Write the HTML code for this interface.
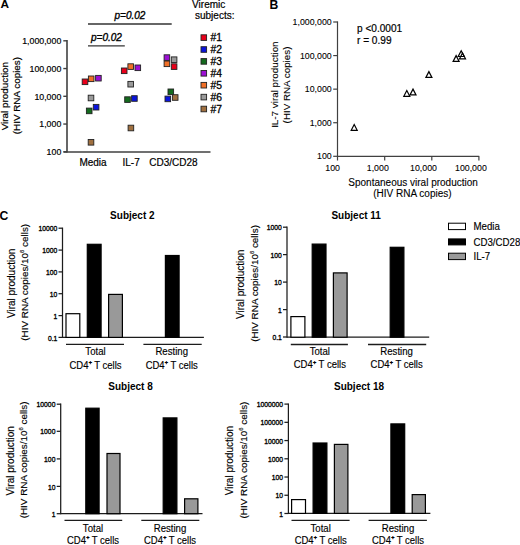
<!DOCTYPE html>
<html><head><meta charset="utf-8"><style>
html,body{margin:0;padding:0;background:#fff;width:520px;height:545px;overflow:hidden}
svg{display:block;font-family:"Liberation Sans", sans-serif}
</style></head><body>
<svg width="520" height="545" viewBox="0 0 520 545">
<rect width="520" height="545" fill="#fff"/>
<text x="0.4" y="8.4" font-size="11.8" text-anchor="start" font-weight="bold">A</text>
<line x1="67.0" y1="40.099999999999994" x2="67.0" y2="152.6" stroke="#404040" stroke-width="1.6"/>
<line x1="63.6" y1="151.9" x2="210.5" y2="151.9" stroke="#404040" stroke-width="1.5"/>
<line x1="63.3" y1="40.8" x2="67.0" y2="40.8" stroke="#404040" stroke-width="1.4"/>
<text x="61.3" y="44.199999999999996" font-size="9.5" text-anchor="end" textLength="39.14" lengthAdjust="spacingAndGlyphs" stroke="#000" stroke-width="0.2">1,000,000</text>
<line x1="63.3" y1="68.55" x2="67.0" y2="68.55" stroke="#404040" stroke-width="1.4"/>
<text x="61.3" y="71.95" font-size="9.5" text-anchor="end" textLength="31.8" lengthAdjust="spacingAndGlyphs" stroke="#000" stroke-width="0.2">100,000</text>
<line x1="63.3" y1="96.3" x2="67.0" y2="96.3" stroke="#404040" stroke-width="1.4"/>
<text x="61.3" y="99.7" font-size="9.5" text-anchor="end" textLength="26.91" lengthAdjust="spacingAndGlyphs" stroke="#000" stroke-width="0.2">10,000</text>
<line x1="63.3" y1="124.05" x2="67.0" y2="124.05" stroke="#404040" stroke-width="1.4"/>
<text x="61.3" y="127.45" font-size="9.5" text-anchor="end" textLength="22.02" lengthAdjust="spacingAndGlyphs" stroke="#000" stroke-width="0.2">1,000</text>
<line x1="63.3" y1="151.8" x2="67.0" y2="151.8" stroke="#404040" stroke-width="1.4"/>
<text x="61.3" y="155.20000000000002" font-size="9.5" text-anchor="end" textLength="14.68" lengthAdjust="spacingAndGlyphs" stroke="#000" stroke-width="0.2">100</text>
<text x="93.0" y="166.0" font-size="10" text-anchor="middle" stroke="#000" stroke-width="0.2">Media</text>
<text x="131.15" y="166.0" font-size="10" text-anchor="middle" stroke="#000" stroke-width="0.2">IL-7</text>
<text x="173.45" y="166.0" font-size="10" text-anchor="middle" stroke="#000" stroke-width="0.2">CD3/CD28</text>
<text transform="translate(8.0,96.15) rotate(-90)" x="0" y="0" font-size="9.9" text-anchor="middle" stroke="#000" stroke-width="0.2">Viral production</text>
<text transform="translate(19.8,95.6) rotate(-90)" x="0" y="0" font-size="9.9" text-anchor="middle" stroke="#000" stroke-width="0.2">(HIV RNA copies)</text>
<line x1="88" y1="24" x2="171.7" y2="24" stroke="#333" stroke-width="1.3"/>
<text x="130" y="19.2" font-size="10" text-anchor="middle" font-style="italic" stroke="#000" stroke-width="0.35">p=0.02</text>
<line x1="88" y1="45.8" x2="124.8" y2="45.8" stroke="#333" stroke-width="1.3"/>
<text x="106.5" y="41.2" font-size="10" text-anchor="middle" font-style="italic" stroke="#000" stroke-width="0.35">p=0.02</text>
<text x="192.1" y="7.7" font-size="10" text-anchor="start" stroke="#000" stroke-width="0.2">Viremic</text>
<text x="195" y="19.4" font-size="10" text-anchor="start" stroke="#000" stroke-width="0.2">subjects:</text>
<rect x="201.0" y="34.800000000000004" width="5.6" height="5.6" fill="#e8001a" stroke="#222" stroke-width="0.9"/>
<text x="210.6" y="41.4" font-size="10.3" text-anchor="start" stroke="#000" stroke-width="0.3">#1</text>
<rect x="201.0" y="46.7" width="5.6" height="5.6" fill="#0a14dc" stroke="#222" stroke-width="0.9"/>
<text x="210.6" y="53.3" font-size="10.3" text-anchor="start" stroke="#000" stroke-width="0.3">#2</text>
<rect x="201.0" y="58.60000000000001" width="5.6" height="5.6" fill="#146a1e" stroke="#222" stroke-width="0.9"/>
<text x="210.6" y="65.2" font-size="10.3" text-anchor="start" stroke="#000" stroke-width="0.3">#3</text>
<rect x="201.0" y="70.50000000000001" width="5.6" height="5.6" fill="#9c10d4" stroke="#222" stroke-width="0.9"/>
<text x="210.6" y="77.10000000000001" font-size="10.3" text-anchor="start" stroke="#000" stroke-width="0.3">#4</text>
<rect x="201.0" y="82.4" width="5.6" height="5.6" fill="#f07028" stroke="#222" stroke-width="0.9"/>
<text x="210.6" y="89.0" font-size="10.3" text-anchor="start" stroke="#000" stroke-width="0.3">#5</text>
<rect x="201.0" y="94.3" width="5.6" height="5.6" fill="#9a9a9a" stroke="#222" stroke-width="0.9"/>
<text x="210.6" y="100.89999999999999" font-size="10.3" text-anchor="start" stroke="#000" stroke-width="0.3">#6</text>
<rect x="201.0" y="106.2" width="5.6" height="5.6" fill="#a07040" stroke="#222" stroke-width="0.9"/>
<text x="210.6" y="112.8" font-size="10.3" text-anchor="start" stroke="#000" stroke-width="0.3">#7</text>
<rect x="82.2" y="79.0" width="5.6" height="5.6" fill="#e8001a" stroke="#222" stroke-width="0.9"/>
<rect x="88.4" y="76.0" width="5.6" height="5.6" fill="#f07028" stroke="#222" stroke-width="0.9"/>
<rect x="95.60000000000001" y="75.4" width="5.6" height="5.6" fill="#9c10d4" stroke="#222" stroke-width="0.9"/>
<rect x="88.2" y="95.2" width="5.6" height="5.6" fill="#9a9a9a" stroke="#222" stroke-width="0.9"/>
<rect x="86.4" y="108.10000000000001" width="5.6" height="5.6" fill="#146a1e" stroke="#222" stroke-width="0.9"/>
<rect x="93.3" y="104.4" width="5.6" height="5.6" fill="#0a14dc" stroke="#222" stroke-width="0.9"/>
<rect x="88.2" y="139.5" width="5.6" height="5.6" fill="#a07040" stroke="#222" stroke-width="0.9"/>
<rect x="121.4" y="68.0" width="5.6" height="5.6" fill="#e8001a" stroke="#222" stroke-width="0.9"/>
<rect x="127.89999999999999" y="63.8" width="5.6" height="5.6" fill="#f07028" stroke="#222" stroke-width="0.9"/>
<rect x="135.0" y="65.0" width="5.6" height="5.6" fill="#9c10d4" stroke="#222" stroke-width="0.9"/>
<rect x="127.89999999999999" y="81.4" width="5.6" height="5.6" fill="#9a9a9a" stroke="#222" stroke-width="0.9"/>
<rect x="124.7" y="96.8" width="5.6" height="5.6" fill="#146a1e" stroke="#222" stroke-width="0.9"/>
<rect x="131.6" y="95.7" width="5.6" height="5.6" fill="#0a14dc" stroke="#222" stroke-width="0.9"/>
<rect x="128.1" y="125.2" width="5.6" height="5.6" fill="#a07040" stroke="#222" stroke-width="0.9"/>
<rect x="164.1" y="54.800000000000004" width="5.6" height="5.6" fill="#9c10d4" stroke="#222" stroke-width="0.9"/>
<rect x="171.29999999999998" y="56.900000000000006" width="5.6" height="5.6" fill="#9a9a9a" stroke="#222" stroke-width="0.9"/>
<rect x="164.1" y="61.0" width="5.6" height="5.6" fill="#f07028" stroke="#222" stroke-width="0.9"/>
<rect x="171.29999999999998" y="63.8" width="5.6" height="5.6" fill="#e8001a" stroke="#222" stroke-width="0.9"/>
<rect x="168.0" y="89.0" width="5.6" height="5.6" fill="#146a1e" stroke="#222" stroke-width="0.9"/>
<rect x="165.0" y="96.10000000000001" width="5.6" height="5.6" fill="#0a14dc" stroke="#222" stroke-width="0.9"/>
<rect x="172.39999999999998" y="94.7" width="5.6" height="5.6" fill="#a07040" stroke="#222" stroke-width="0.9"/>
<text x="269.4" y="8.7" font-size="12.2" text-anchor="start" font-weight="bold">B</text>
<line x1="337.5" y1="21.4" x2="337.5" y2="156.9" stroke="#404040" stroke-width="1.2"/>
<line x1="337.5" y1="156.4" x2="479.2" y2="156.4" stroke="#404040" stroke-width="1.2"/>
<line x1="333.2" y1="22.0" x2="337.5" y2="22.0" stroke="#404040" stroke-width="1.2"/>
<text x="331.7" y="25.0" font-size="9.5" text-anchor="end" textLength="39.14" lengthAdjust="spacingAndGlyphs" stroke="#000" stroke-width="0.1">1,000,000</text>
<line x1="333.2" y1="55.575" x2="337.5" y2="55.575" stroke="#404040" stroke-width="1.2"/>
<text x="331.7" y="58.575" font-size="9.5" text-anchor="end" textLength="31.8" lengthAdjust="spacingAndGlyphs" stroke="#000" stroke-width="0.1">100,000</text>
<line x1="333.2" y1="89.15" x2="337.5" y2="89.15" stroke="#404040" stroke-width="1.2"/>
<text x="331.7" y="92.15" font-size="9.5" text-anchor="end" textLength="26.91" lengthAdjust="spacingAndGlyphs" stroke="#000" stroke-width="0.1">10,000</text>
<line x1="333.2" y1="122.72500000000001" x2="337.5" y2="122.72500000000001" stroke="#404040" stroke-width="1.2"/>
<text x="331.7" y="125.72500000000001" font-size="9.5" text-anchor="end" textLength="22.02" lengthAdjust="spacingAndGlyphs" stroke="#000" stroke-width="0.1">1,000</text>
<line x1="333.2" y1="156.3" x2="337.5" y2="156.3" stroke="#404040" stroke-width="1.2"/>
<text x="331.7" y="159.3" font-size="9.5" text-anchor="end" textLength="14.68" lengthAdjust="spacingAndGlyphs" stroke="#000" stroke-width="0.1">100</text>
<line x1="337.5" y1="156.3" x2="337.5" y2="160.5" stroke="#404040" stroke-width="1.2"/>
<line x1="384.7" y1="156.3" x2="384.7" y2="160.5" stroke="#404040" stroke-width="1.2"/>
<line x1="431.8" y1="156.3" x2="431.8" y2="160.5" stroke="#404040" stroke-width="1.2"/>
<line x1="478.9" y1="156.3" x2="478.9" y2="160.5" stroke="#404040" stroke-width="1.2"/>
<text x="332.6" y="171.4" font-size="9.5" text-anchor="middle" textLength="14.68" lengthAdjust="spacingAndGlyphs" stroke="#000" stroke-width="0.1">100</text>
<text x="377.8" y="171.4" font-size="9.5" text-anchor="middle" textLength="22.02" lengthAdjust="spacingAndGlyphs" stroke="#000" stroke-width="0.1">1,000</text>
<text x="423.5" y="171.4" font-size="9.5" text-anchor="middle" textLength="26.91" lengthAdjust="spacingAndGlyphs" stroke="#000" stroke-width="0.1">10,000</text>
<text x="470.9" y="171.4" font-size="9.5" text-anchor="middle" textLength="31.8" lengthAdjust="spacingAndGlyphs" stroke="#000" stroke-width="0.1">100,000</text>
<text x="357.0" y="31.9" font-size="10.1" text-anchor="start" stroke="#000" stroke-width="0.2">p &lt;0.0001</text>
<text x="357.0" y="43.6" font-size="10.1" text-anchor="start" stroke="#000" stroke-width="0.2">r = 0.99</text>
<text x="413.1" y="185.6" font-size="10" text-anchor="middle" stroke="#000" stroke-width="0.1">Spontaneous viral production</text>
<text x="412.4" y="197.4" font-size="10" text-anchor="middle" stroke="#000" stroke-width="0.1">(HIV RNA copies)</text>
<text transform="translate(277.7,84.65) rotate(-90)" x="0" y="0" font-size="9.85" text-anchor="middle" stroke="#000" stroke-width="0.1">IL-7 viral production</text>
<text transform="translate(289.9,85.0) rotate(-90)" x="0" y="0" font-size="9.8" text-anchor="middle" stroke="#000" stroke-width="0.1">(HIV RNA copies)</text>
<path d="M354.2 124.50 L357.20 130.30 L351.20 130.30 Z" fill="none" stroke="#000" stroke-width="1.2" stroke-linejoin="miter"/>
<path d="M406.8 90.50 L409.80 96.30 L403.80 96.30 Z" fill="none" stroke="#000" stroke-width="1.2" stroke-linejoin="miter"/>
<path d="M413.0 89.10 L416.00 94.90 L410.00 94.90 Z" fill="none" stroke="#000" stroke-width="1.2" stroke-linejoin="miter"/>
<path d="M428.9 71.60 L431.90 77.40 L425.90 77.40 Z" fill="none" stroke="#000" stroke-width="1.2" stroke-linejoin="miter"/>
<path d="M456.1 55.60 L459.10 61.40 L453.10 61.40 Z" fill="none" stroke="#000" stroke-width="1.2" stroke-linejoin="miter"/>
<path d="M461.2 50.70 L464.20 56.50 L458.20 56.50 Z" fill="none" stroke="#000" stroke-width="1.2" stroke-linejoin="miter"/>
<path d="M462.5 53.00 L465.50 58.80 L459.50 58.80 Z" fill="none" stroke="#000" stroke-width="1.2" stroke-linejoin="miter"/>
<text x="-0.4" y="220.2" font-size="12.2" text-anchor="start" font-weight="bold">C</text>
<rect x="448.5" y="223.2" width="17" height="6.4" fill="#fff" stroke="#000" stroke-width="1"/>
<rect x="448.5" y="238.9" width="17" height="6.0" fill="#000" stroke="#000" stroke-width="1"/>
<rect x="448.5" y="253.2" width="17" height="6.4" fill="#999" stroke="#000" stroke-width="1"/>
<text transform="translate(473.5,229.8) scale(0.95,1)" x="0" y="0" font-size="10.2" text-anchor="start" stroke="#000" stroke-width="0.15">Media</text>
<text transform="translate(473.5,245.6) scale(0.95,1)" x="0" y="0" font-size="10.2" text-anchor="start" stroke="#000" stroke-width="0.15">CD3/CD28</text>
<text transform="translate(473.5,259.6) scale(0.95,1)" x="0" y="0" font-size="10.2" text-anchor="start" stroke="#000" stroke-width="0.15">IL-7</text>
<line x1="62.5" y1="227.6" x2="62.5" y2="338.0" stroke="#1c1c1c" stroke-width="1.25"/>
<line x1="62.5" y1="337.4" x2="203.9" y2="337.4" stroke="#1c1c1c" stroke-width="1.25"/>
<line x1="58.5" y1="228.2" x2="62.5" y2="228.2" stroke="#1c1c1c" stroke-width="1.25"/>
<text x="57.3" y="231.29999999999998" font-size="7.8" text-anchor="end" textLength="18.8" lengthAdjust="spacingAndGlyphs" stroke="#000" stroke-width="0.35">10000</text>
<line x1="58.5" y1="250.1" x2="62.5" y2="250.1" stroke="#1c1c1c" stroke-width="1.25"/>
<text x="57.3" y="253.2" font-size="7.8" text-anchor="end" textLength="15.04" lengthAdjust="spacingAndGlyphs" stroke="#000" stroke-width="0.35">1000</text>
<line x1="58.5" y1="271.9" x2="62.5" y2="271.9" stroke="#1c1c1c" stroke-width="1.25"/>
<text x="57.3" y="275.0" font-size="7.8" text-anchor="end" textLength="11.28" lengthAdjust="spacingAndGlyphs" stroke="#000" stroke-width="0.35">100</text>
<line x1="58.5" y1="293.7" x2="62.5" y2="293.7" stroke="#1c1c1c" stroke-width="1.25"/>
<text x="57.3" y="296.8" font-size="7.8" text-anchor="end" textLength="7.52" lengthAdjust="spacingAndGlyphs" stroke="#000" stroke-width="0.35">10</text>
<line x1="58.5" y1="315.6" x2="62.5" y2="315.6" stroke="#1c1c1c" stroke-width="1.25"/>
<text x="57.3" y="318.70000000000005" font-size="7.8" text-anchor="end" textLength="3.76" lengthAdjust="spacingAndGlyphs" stroke="#000" stroke-width="0.35">1</text>
<line x1="58.5" y1="337.4" x2="62.5" y2="337.4" stroke="#1c1c1c" stroke-width="1.25"/>
<text x="57.3" y="340.5" font-size="7.8" text-anchor="end" textLength="9.4" lengthAdjust="spacingAndGlyphs" stroke="#000" stroke-width="0.35">0.1</text>
<rect x="66.0" y="313.70000000000005" width="13.8" height="23.699999999999953" fill="#fff" stroke="#000" stroke-width="1.2"/>
<rect x="87.3" y="244.29999999999998" width="13.8" height="93.1" fill="#000" stroke="#000" stroke-width="1.2"/>
<rect x="108.6" y="294.40000000000003" width="13.8" height="42.999999999999964" fill="#999" stroke="#000" stroke-width="1.2"/>
<rect x="165.4" y="255.5" width="13.699999999999978" height="81.89999999999998" fill="#000" stroke="#000" stroke-width="1.2"/>
<line x1="66" y1="344.4" x2="124" y2="344.4" stroke="#1c1c1c" stroke-width="1.3"/>
<line x1="143.4" y1="344.4" x2="201.7" y2="344.4" stroke="#1c1c1c" stroke-width="1.3"/>
<text transform="translate(95.5,355.4) scale(0.96,1)" x="0" y="0" font-size="10" text-anchor="middle" stroke="#000" stroke-width="0.15">Total</text>
<text transform="translate(171.7,355.4) scale(0.96,1)" x="0" y="0" font-size="10" text-anchor="middle" stroke="#000" stroke-width="0.15">Resting</text>
<text transform="translate(95.5,368.5) scale(0.95,1)" x="0" y="0" font-size="10" text-anchor="middle" stroke="#000" stroke-width="0.15">CD4<tspan font-size="5.8" dx="0.2" dy="-4.4" stroke-width="0.4">+</tspan><tspan dy="4.4"> T cells</tspan></text>
<text transform="translate(171.7,368.5) scale(0.95,1)" x="0" y="0" font-size="10" text-anchor="middle" stroke="#000" stroke-width="0.15">CD4<tspan font-size="5.8" dx="0.2" dy="-4.4" stroke-width="0.4">+</tspan><tspan dy="4.4"> T cells</tspan></text>
<text x="132.35" y="219.2" font-size="10" text-anchor="middle" font-weight="bold">Subject 2</text>
<text transform="translate(14.7,283.35) rotate(-90)" x="0" y="0" font-size="10" text-anchor="middle" stroke="#000" stroke-width="0.15">Viral production</text>
<text transform="translate(27.900000000000002,282.3) rotate(-90)" x="0" y="0" font-size="9.9" text-anchor="middle" stroke="#000" stroke-width="0.15">(HIV RNA copies/10<tspan font-size="5.8" dy="-3.9">6</tspan><tspan dy="3.9"> cells)</tspan></text>
<line x1="287.0" y1="226.6" x2="287.0" y2="337.8" stroke="#1c1c1c" stroke-width="1.25"/>
<line x1="287.0" y1="337.2" x2="429.2" y2="337.2" stroke="#1c1c1c" stroke-width="1.25"/>
<line x1="283.0" y1="227.2" x2="287.0" y2="227.2" stroke="#1c1c1c" stroke-width="1.25"/>
<text x="281.8" y="230.29999999999998" font-size="7.8" text-anchor="end" textLength="15.04" lengthAdjust="spacingAndGlyphs" stroke="#000" stroke-width="0.35">1000</text>
<line x1="283.0" y1="254.6" x2="287.0" y2="254.6" stroke="#1c1c1c" stroke-width="1.25"/>
<text x="281.8" y="257.7" font-size="7.8" text-anchor="end" textLength="11.28" lengthAdjust="spacingAndGlyphs" stroke="#000" stroke-width="0.35">100</text>
<line x1="283.0" y1="282.1" x2="287.0" y2="282.1" stroke="#1c1c1c" stroke-width="1.25"/>
<text x="281.8" y="285.20000000000005" font-size="7.8" text-anchor="end" textLength="7.52" lengthAdjust="spacingAndGlyphs" stroke="#000" stroke-width="0.35">10</text>
<line x1="283.0" y1="309.6" x2="287.0" y2="309.6" stroke="#1c1c1c" stroke-width="1.25"/>
<text x="281.8" y="312.70000000000005" font-size="7.8" text-anchor="end" textLength="3.76" lengthAdjust="spacingAndGlyphs" stroke="#000" stroke-width="0.35">1</text>
<line x1="283.0" y1="337.0" x2="287.0" y2="337.0" stroke="#1c1c1c" stroke-width="1.25"/>
<text x="281.8" y="340.1" font-size="7.8" text-anchor="end" textLength="9.4" lengthAdjust="spacingAndGlyphs" stroke="#000" stroke-width="0.35">0.1</text>
<rect x="290.90000000000003" y="316.6" width="13.99999999999999" height="20.599999999999987" fill="#fff" stroke="#000" stroke-width="1.2"/>
<rect x="312.20000000000005" y="244.1" width="13.8" height="93.1" fill="#000" stroke="#000" stroke-width="1.2"/>
<rect x="333.40000000000003" y="272.90000000000003" width="13.699999999999978" height="64.29999999999998" fill="#999" stroke="#000" stroke-width="1.2"/>
<rect x="390.20000000000005" y="247.29999999999998" width="13.699999999999978" height="89.9" fill="#000" stroke="#000" stroke-width="1.2"/>
<line x1="290.8" y1="344.5" x2="347.9" y2="344.5" stroke="#1c1c1c" stroke-width="1.3"/>
<line x1="368" y1="344.5" x2="426.2" y2="344.5" stroke="#1c1c1c" stroke-width="1.3"/>
<text transform="translate(319.8,355.2) scale(0.96,1)" x="0" y="0" font-size="10" text-anchor="middle" stroke="#000" stroke-width="0.15">Total</text>
<text transform="translate(396.6,355.2) scale(0.96,1)" x="0" y="0" font-size="10" text-anchor="middle" stroke="#000" stroke-width="0.15">Resting</text>
<text transform="translate(319.8,368.3) scale(0.95,1)" x="0" y="0" font-size="10" text-anchor="middle" stroke="#000" stroke-width="0.15">CD4<tspan font-size="5.8" dx="0.2" dy="-4.4" stroke-width="0.4">+</tspan><tspan dy="4.4"> T cells</tspan></text>
<text transform="translate(396.6,368.3) scale(0.95,1)" x="0" y="0" font-size="10" text-anchor="middle" stroke="#000" stroke-width="0.15">CD4<tspan font-size="5.8" dx="0.2" dy="-4.4" stroke-width="0.4">+</tspan><tspan dy="4.4"> T cells</tspan></text>
<text x="356.2" y="219.2" font-size="10" text-anchor="middle" font-weight="bold">Subject 11</text>
<text transform="translate(243.79999999999998,284.3) rotate(-90)" x="0" y="0" font-size="10" text-anchor="middle" stroke="#000" stroke-width="0.15">Viral production</text>
<text transform="translate(257.70000000000005,283.45) rotate(-90)" x="0" y="0" font-size="9.9" text-anchor="middle" stroke="#000" stroke-width="0.15">(HIV RNA copies/10<tspan font-size="5.8" dy="-3.9">6</tspan><tspan dy="3.9"> cells)</tspan></text>
<line x1="60.7" y1="403.59999999999997" x2="60.7" y2="514.3000000000001" stroke="#1c1c1c" stroke-width="1.25"/>
<line x1="60.7" y1="513.7" x2="202.5" y2="513.7" stroke="#1c1c1c" stroke-width="1.25"/>
<line x1="56.7" y1="404.2" x2="60.7" y2="404.2" stroke="#1c1c1c" stroke-width="1.25"/>
<text x="55.4" y="407.3" font-size="7.8" text-anchor="end" textLength="18.8" lengthAdjust="spacingAndGlyphs" stroke="#000" stroke-width="0.35">10000</text>
<line x1="56.7" y1="431.3" x2="60.7" y2="431.3" stroke="#1c1c1c" stroke-width="1.25"/>
<text x="55.4" y="434.40000000000003" font-size="7.8" text-anchor="end" textLength="15.04" lengthAdjust="spacingAndGlyphs" stroke="#000" stroke-width="0.35">1000</text>
<line x1="56.7" y1="458.9" x2="60.7" y2="458.9" stroke="#1c1c1c" stroke-width="1.25"/>
<text x="55.4" y="462.0" font-size="7.8" text-anchor="end" textLength="11.28" lengthAdjust="spacingAndGlyphs" stroke="#000" stroke-width="0.35">100</text>
<line x1="56.7" y1="486.4" x2="60.7" y2="486.4" stroke="#1c1c1c" stroke-width="1.25"/>
<text x="55.4" y="489.5" font-size="7.8" text-anchor="end" textLength="7.52" lengthAdjust="spacingAndGlyphs" stroke="#000" stroke-width="0.35">10</text>
<line x1="56.7" y1="513.7" x2="60.7" y2="513.7" stroke="#1c1c1c" stroke-width="1.25"/>
<text x="55.4" y="516.8000000000001" font-size="7.8" text-anchor="end" textLength="3.76" lengthAdjust="spacingAndGlyphs" stroke="#000" stroke-width="0.35">1</text>
<rect x="85.8" y="408.20000000000005" width="13.3" height="105.50000000000003" fill="#000" stroke="#000" stroke-width="1.2"/>
<rect x="107.0" y="453.5" width="12.99999999999999" height="60.20000000000007" fill="#999" stroke="#000" stroke-width="1.2"/>
<rect x="163.2" y="417.90000000000003" width="13.700000000000006" height="95.80000000000004" fill="#000" stroke="#000" stroke-width="1.2"/>
<rect x="184.6" y="498.8" width="13.3" height="14.900000000000057" fill="#999" stroke="#000" stroke-width="1.2"/>
<line x1="64.5" y1="520.4" x2="122.2" y2="520.4" stroke="#1c1c1c" stroke-width="1.3"/>
<line x1="141.3" y1="520.4" x2="199.3" y2="520.4" stroke="#1c1c1c" stroke-width="1.3"/>
<text transform="translate(93,531.9) scale(0.96,1)" x="0" y="0" font-size="10" text-anchor="middle" stroke="#000" stroke-width="0.15">Total</text>
<text transform="translate(170,531.9) scale(0.96,1)" x="0" y="0" font-size="10" text-anchor="middle" stroke="#000" stroke-width="0.15">Resting</text>
<text transform="translate(93,543.5) scale(0.95,1)" x="0" y="0" font-size="10" text-anchor="middle" stroke="#000" stroke-width="0.15">CD4<tspan font-size="5.8" dx="0.2" dy="-4.4" stroke-width="0.4">+</tspan><tspan dy="4.4"> T cells</tspan></text>
<text transform="translate(170,543.5) scale(0.95,1)" x="0" y="0" font-size="10" text-anchor="middle" stroke="#000" stroke-width="0.15">CD4<tspan font-size="5.8" dx="0.2" dy="-4.4" stroke-width="0.4">+</tspan><tspan dy="4.4"> T cells</tspan></text>
<text x="130.5" y="389.6" font-size="10" text-anchor="middle" font-weight="bold">Subject 8</text>
<text transform="translate(13.7,460.75) rotate(-90)" x="0" y="0" font-size="10" text-anchor="middle" stroke="#000" stroke-width="0.15">Viral production</text>
<text transform="translate(27.3,459.9) rotate(-90)" x="0" y="0" font-size="9.9" text-anchor="middle" stroke="#000" stroke-width="0.15">(HIV RNA copies/10<tspan font-size="5.8" dy="-3.9">6</tspan><tspan dy="3.9"> cells)</tspan></text>
<line x1="288.4" y1="403.5" x2="288.4" y2="514.0" stroke="#1c1c1c" stroke-width="1.25"/>
<line x1="288.4" y1="513.4" x2="430.4" y2="513.4" stroke="#1c1c1c" stroke-width="1.25"/>
<line x1="284.4" y1="404.1" x2="288.4" y2="404.1" stroke="#1c1c1c" stroke-width="1.25"/>
<text x="283.0" y="407.20000000000005" font-size="7.8" text-anchor="end" textLength="26.32" lengthAdjust="spacingAndGlyphs" stroke="#000" stroke-width="0.35">1000000</text>
<line x1="284.4" y1="422.33000000000004" x2="288.4" y2="422.33000000000004" stroke="#1c1c1c" stroke-width="1.25"/>
<text x="283.0" y="425.43000000000006" font-size="7.8" text-anchor="end" textLength="22.56" lengthAdjust="spacingAndGlyphs" stroke="#000" stroke-width="0.35">100000</text>
<line x1="284.4" y1="440.56" x2="288.4" y2="440.56" stroke="#1c1c1c" stroke-width="1.25"/>
<text x="283.0" y="443.66" font-size="7.8" text-anchor="end" textLength="18.8" lengthAdjust="spacingAndGlyphs" stroke="#000" stroke-width="0.35">10000</text>
<line x1="284.4" y1="458.79" x2="288.4" y2="458.79" stroke="#1c1c1c" stroke-width="1.25"/>
<text x="283.0" y="461.89000000000004" font-size="7.8" text-anchor="end" textLength="15.04" lengthAdjust="spacingAndGlyphs" stroke="#000" stroke-width="0.35">1000</text>
<line x1="284.4" y1="477.02000000000004" x2="288.4" y2="477.02000000000004" stroke="#1c1c1c" stroke-width="1.25"/>
<text x="283.0" y="480.12000000000006" font-size="7.8" text-anchor="end" textLength="11.28" lengthAdjust="spacingAndGlyphs" stroke="#000" stroke-width="0.35">100</text>
<line x1="284.4" y1="495.25" x2="288.4" y2="495.25" stroke="#1c1c1c" stroke-width="1.25"/>
<text x="283.0" y="498.35" font-size="7.8" text-anchor="end" textLength="7.52" lengthAdjust="spacingAndGlyphs" stroke="#000" stroke-width="0.35">10</text>
<line x1="284.4" y1="513.48" x2="288.4" y2="513.48" stroke="#1c1c1c" stroke-width="1.25"/>
<text x="283.0" y="516.58" font-size="7.8" text-anchor="end" textLength="3.76" lengthAdjust="spacingAndGlyphs" stroke="#000" stroke-width="0.35">1</text>
<rect x="291.6" y="499.6" width="13.900000000000023" height="13.799999999999978" fill="#fff" stroke="#000" stroke-width="1.2"/>
<rect x="313.1" y="443.0" width="13.8" height="70.4" fill="#000" stroke="#000" stroke-width="1.2"/>
<rect x="334.40000000000003" y="444.40000000000003" width="13.49999999999999" height="68.99999999999997" fill="#999" stroke="#000" stroke-width="1.2"/>
<rect x="390.90000000000003" y="423.90000000000003" width="13.8" height="89.49999999999997" fill="#000" stroke="#000" stroke-width="1.2"/>
<rect x="412.20000000000005" y="494.6" width="13.199999999999978" height="18.799999999999976" fill="#999" stroke="#000" stroke-width="1.2"/>
<line x1="291.5" y1="520.4" x2="349.6" y2="520.4" stroke="#1c1c1c" stroke-width="1.3"/>
<line x1="368.6" y1="520.4" x2="426.9" y2="520.4" stroke="#1c1c1c" stroke-width="1.3"/>
<text transform="translate(320.7,531.9) scale(0.96,1)" x="0" y="0" font-size="10" text-anchor="middle" stroke="#000" stroke-width="0.15">Total</text>
<text transform="translate(398,531.9) scale(0.96,1)" x="0" y="0" font-size="10" text-anchor="middle" stroke="#000" stroke-width="0.15">Resting</text>
<text transform="translate(320.7,543.6) scale(0.95,1)" x="0" y="0" font-size="10" text-anchor="middle" stroke="#000" stroke-width="0.15">CD4<tspan font-size="5.8" dx="0.2" dy="-4.4" stroke-width="0.4">+</tspan><tspan dy="4.4"> T cells</tspan></text>
<text transform="translate(398,543.6) scale(0.95,1)" x="0" y="0" font-size="10" text-anchor="middle" stroke="#000" stroke-width="0.15">CD4<tspan font-size="5.8" dx="0.2" dy="-4.4" stroke-width="0.4">+</tspan><tspan dy="4.4"> T cells</tspan></text>
<text x="359" y="389.6" font-size="10" text-anchor="middle" font-weight="bold">Subject 18</text>
<text transform="translate(233.2,460.55) rotate(-90)" x="0" y="0" font-size="10" text-anchor="middle" stroke="#000" stroke-width="0.15">Viral production</text>
<text transform="translate(247.0,460.05) rotate(-90)" x="0" y="0" font-size="9.9" text-anchor="middle" stroke="#000" stroke-width="0.15">(HIV RNA copies/10<tspan font-size="5.8" dy="-3.9">6</tspan><tspan dy="3.9"> cells)</tspan></text>
</svg></body></html>
